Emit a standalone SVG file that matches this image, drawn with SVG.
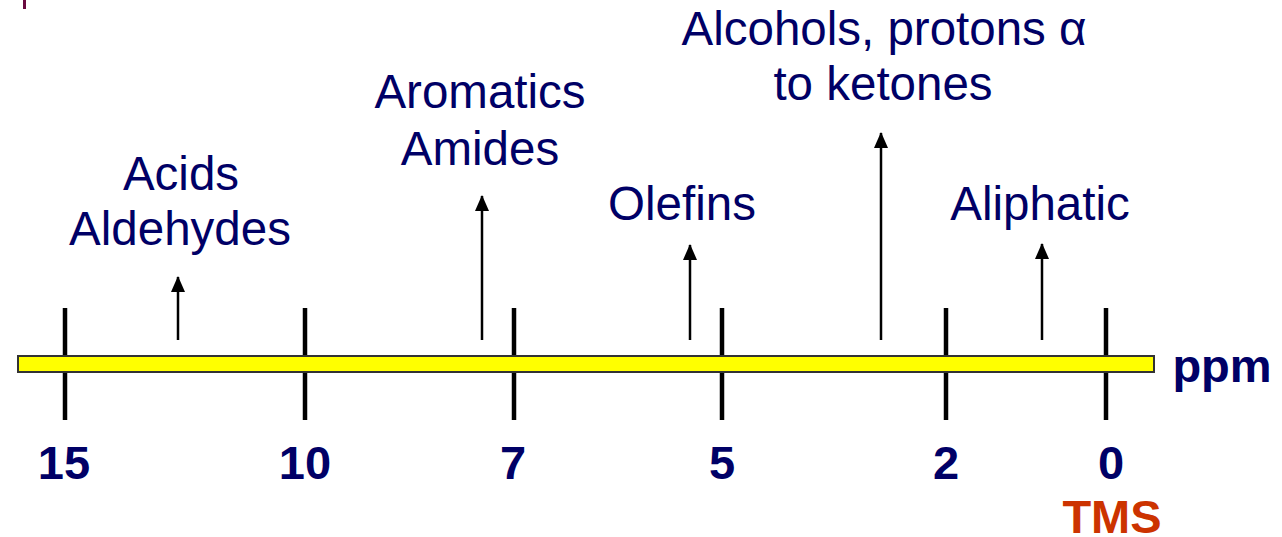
<svg xmlns="http://www.w3.org/2000/svg" width="1282" height="537" viewBox="0 0 1282 537">
<style>
.lbl{font-family:"Liberation Sans",Arial,sans-serif;font-size:47.5px;fill:#000066;text-anchor:middle}
.num{font-family:"Liberation Sans",Arial,sans-serif;font-size:47px;font-weight:bold;fill:#000066;text-anchor:middle}
.tick{stroke:#000;stroke-width:4.5}
.arr{stroke:#000;stroke-width:2.5;fill:none;marker-end:url(#ah)}
</style>
<defs>
<marker id="ah" markerUnits="userSpaceOnUse" markerWidth="16" markerHeight="14" refX="15" refY="7" orient="auto" viewBox="0 0 16 14">
<path d="M0,0 L16,7 L0,14 Z" fill="#000"/>
</marker>
</defs>
<rect width="1282" height="537" fill="#fff"/>
<rect x="23" y="0" width="3" height="9" fill="#6a0a40"/>
<g id="axis">
<line class="tick" x1="65" y1="308" x2="65" y2="420"/>
<line class="tick" x1="305" y1="308" x2="305" y2="420"/>
<line class="tick" x1="514" y1="308" x2="514" y2="420"/>
<line class="tick" x1="722" y1="308" x2="722" y2="420"/>
<line class="tick" x1="946" y1="308" x2="946" y2="420"/>
<line class="tick" x1="1106" y1="308" x2="1106" y2="420"/>
<rect x="18" y="356" width="1136" height="16" fill="#ffff00" stroke="#333" stroke-width="2"/>
<text class="num" x="1222" y="382">ppm</text>
</g>
<g id="ticks-labels">
<text class="num" x="64" y="479">15</text>
<text class="num" x="305" y="479">10</text>
<text class="num" x="513" y="479">7</text>
<text class="num" x="722" y="479">5</text>
<text class="num" x="946" y="479">2</text>
<text class="num" x="1111" y="479">0</text>
<text class="num" x="1112" y="533" style="fill:#cc3300">TMS</text>
</g>
<g id="connectors">
<path class="arr" d="M178,340 V277"/>
<path class="arr" d="M482,340 V196"/>
<path class="arr" d="M690,340 V245"/>
<path class="arr" d="M881,340 V133"/>
<path class="arr" d="M1042,340 V244"/>
</g>
<g id="acids"><text class="lbl" x="181" y="190">Acids</text><text class="lbl" x="180" y="245">Aldehydes</text></g>
<g id="aromatics"><text class="lbl" x="480" y="108">Aromatics</text><text class="lbl" x="480" y="165">Amides</text></g>
<g id="olefins"><text class="lbl" x="682" y="220">Olefins</text></g>
<g id="alcohols"><text class="lbl" x="884" y="45">Alcohols, protons α</text><text class="lbl" x="883" y="100">to ketones</text></g>
<g id="aliphatic"><text class="lbl" x="1040" y="220">Aliphatic</text></g>
</svg>
